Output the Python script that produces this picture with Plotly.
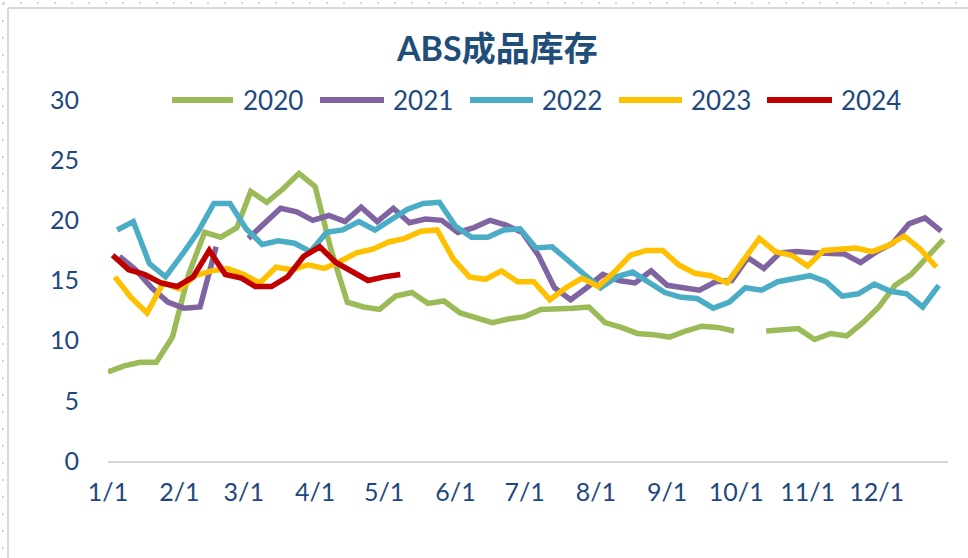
import pandas as pd
import plotly.graph_objects as go

# ---- data (weekly) ----
years = ["2020", "2021", "2022", "2023", "2024"]
start_dates = ["2020-01-01", "2021-01-06", "2022-01-05", "2023-01-04", "2024-01-03"]
colors = ["#9BBB59", "#8064A2", "#4BACC6", "#FFC000", "#C00000"]

v2020 = [7.4, 7.9, 8.2, 8.2, 10.3, 15.5, 19.0, 18.6, 19.4, 22.4, 21.5, 22.6, 23.9, 22.8,
         17.5, 13.2, 12.8, 12.6, 13.7, 14.0, 13.1, 13.3, 12.3, 11.9, 11.5, 11.8, 12.0,
         12.6, 12.6, 12.7, 12.8, 11.5, 11.1, 10.6, 10.5, 10.3, 10.8, 11.2, 11.1, 10.8,
         None, 10.8, 10.9, 11.0, 10.1, 10.6, 10.4, 11.5, 12.8, 14.6, 15.5, 17.0, 18.4]
v2021 = [17.0, 15.9, 14.4, 13.2, 12.7, 12.8, 17.8, None, 18.5, 19.8, 21.0, 20.7, 20.0,
         20.4, 19.9, 21.1, 19.9, 21.0, 19.8, 20.1, 20.0, 19.0, 19.4, 20.0, 19.6, 19.0,
         17.1, 14.4, 13.4, 14.4, 15.5, 15.0, 14.8, 15.8, 14.6, 14.4, 14.2, 14.9, 15.0,
         16.9, 16.0, 17.3, 17.4, 17.3, 17.3, 17.2, 16.5, 17.4, 18.1, 19.7, 20.2, 19.1]
v2022 = [19.2, 19.9, 16.4, 15.3, 17.1, 19.0, 21.4, 21.4, 19.3, 18.0, 18.3, 18.1, 17.4,
         19.0, 19.2, 19.9, 19.2, 20.0, 20.9, 21.4, 21.5, 19.5, 18.6, 18.6, 19.2, 19.3,
         17.7, 17.8, 16.6, 15.5, 14.4, 15.3, 15.7, 14.9, 14.0, 13.6, 13.5, 12.7, 13.2,
         14.4, 14.2, 14.9, 15.2, 15.4, 14.9, 13.7, 13.9, 14.7, 14.1, 13.9, 12.8, 14.6]
v2023 = [15.3, 13.6, 12.3, 14.8, 14.3, 15.4, 15.8, 16.0, 15.5, 14.8, 16.1, 15.9, 16.3,
         16.0, 16.6, 17.3, 17.6, 18.2, 18.5, 19.1, 19.2, 16.8, 15.3, 15.1, 15.8, 14.9,
         14.9, 13.4, 14.4, 15.2, 14.5, 15.7, 17.1, 17.5, 17.5, 16.3, 15.6, 15.4, 14.8,
         16.7, 18.5, 17.4, 17.1, 16.2, 17.5, 17.6, 17.7, 17.4, 17.9, 18.7, 17.6, 16.1]
v2024 = [17.1, 15.9, 15.5, 14.8, 14.5, 15.3, 17.5, 15.5, 15.2, 14.5, 14.5, 15.3, 17.0,
         17.8, 16.5, 15.7, 15.0, 15.3, 15.5]
series_values = [v2020, v2021, v2022, v2023, v2024]

month_ticks = ["2001-%02d-01" % m for m in range(1, 13)]
month_labels = ["%d/1" % m for m in range(1, 13)]
title_text = "ABS成品库存"
y_ticks = [0, 5, 10, 15, 20, 25, 30]

# ---- layout geometry (pixels) ----
W, H = 968, 558
L, R, T, B = 108, 20, 100, 97
PW, PH = W - L - R, H - T - B


def px(x):
    return (x - L) / PW


def py(y):
    return (H - B - y) / PH


def common_year(start, n):
    d = pd.date_range(start, periods=n, freq="7D")
    return ["2001-%02d-%02d" % (t.month, t.day) for t in d]


TXT = "#1F497D"
FONT = "Lato, 'Noto Sans CJK SC', sans-serif"

fig = go.Figure()
for name, start, vals, col in zip(years, start_dates, series_values, colors):
    fig.add_trace(go.Scatter(
        x=common_year(start, len(vals)), y=vals, name=name, mode="lines",
        line=dict(color=col, width=5.5), connectgaps=False, showlegend=False,
    ))

shapes = []
annotations = []

# custom legend (long line samples like the reference)
leg = [(172, 233, 241), (320, 384, 391), (470, 533, 540), (619, 682, 689), (767, 832, 839)]
for (x0, x1, xt), name, col in zip(leg, years, colors):
    shapes.append(dict(type="line", xref="paper", yref="paper",
                       x0=px(x0), x1=px(x1), y0=py(100), y1=py(100),
                       line=dict(color=col, width=6)))
    annotations.append(dict(xref="paper", yref="paper", x=px(xt), y=py(100),
                            xanchor="left", yanchor="middle", showarrow=False,
                            text=name, font=dict(family=FONT, size=26, color=TXT)))

# chart frame
shapes.append(dict(type="line", xref="paper", yref="paper", x0=px(8), x1=px(980),
                   y0=py(8), y1=py(8), line=dict(color="#D9D9D9", width=2)))
shapes.append(dict(type="line", xref="paper", yref="paper", x0=px(8), x1=px(8),
                   y0=py(8), y1=py(570), line=dict(color="#D9D9D9", width=2)))
shapes.append(dict(type="line", xref="paper", yref="paper", x0=px(3), x1=px(980),
                   y0=py(3), y1=py(3), line=dict(color="#C8C8C8", width=1.5, dash="2px,15px")))
shapes.append(dict(type="line", xref="paper", yref="paper", x0=px(3), x1=px(3),
                   y0=py(3), y1=py(570), line=dict(color="#C8C8C8", width=1.5, dash="2px,15px")))

annotations.append(dict(xref="paper", yref="paper", x=px(497), y=py(47),
                        xanchor="center", yanchor="middle", showarrow=False,
                        text="<b>" + title_text + "</b>",
                        font=dict(family=FONT, size=34, color="#1F4E79")))

fig.update_layout(
    width=W, height=H,
    margin=dict(l=L, r=R, t=T, b=B),
    paper_bgcolor="white", plot_bgcolor="white",
    showlegend=False,
    shapes=shapes, annotations=annotations,
    xaxis=dict(
        type="date", range=["2001-01-01", "2002-01-01"],
        tickvals=month_ticks, ticktext=month_labels,
        showgrid=False, zeroline=False,
        showline=True, linecolor="#D9D9D9", linewidth=2,
        ticks="", ticklabelstandoff=8,
        tickfont=dict(family=FONT, size=25, color=TXT),
    ),
    yaxis=dict(
        range=[0, 30], tickvals=y_ticks,
        showgrid=False, zeroline=False, showline=False,
        ticks="", ticklabelstandoff=28,
        tickfont=dict(family=FONT, size=25, color=TXT),
    ),
)

fig.write_html("out.html", config={"displayModeBar": False},
               post_script="document.body.style.margin='0';")
